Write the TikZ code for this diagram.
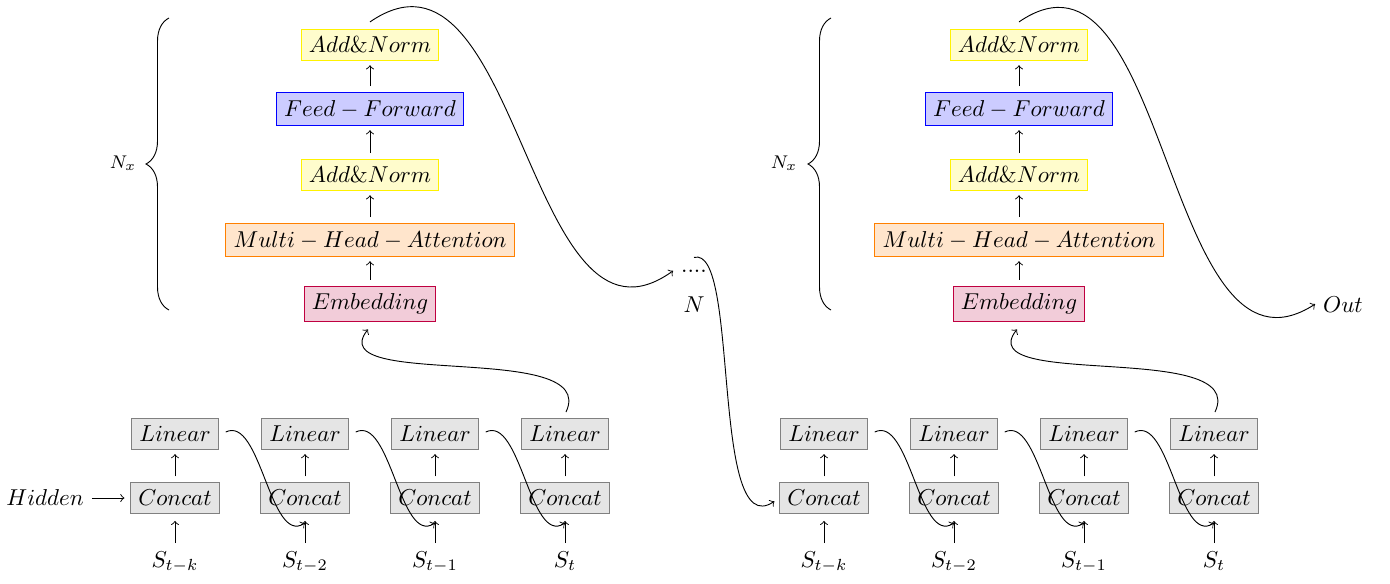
\documentclass[tikz,border=0pt]{standalone}
\usepackage{amsmath}
\usetikzlibrary{calc,decorations.pathreplacing}

\begin{document}
\begin{tikzpicture}[x=0.435pt,y=0.435pt,yscale=-1,xscale=1,
	addnorm/.style={draw=yellow,fill=yellow!20},
	feedfwd/.style={draw=blue,fill=blue!20},
	attn/.style={draw=orange,fill=orange!20},
	embed/.style={draw=purple,fill=purple!20},
	graybox/.style={draw=gray,fill=gray!20},
	uparr/.style={->,shorten >=1.8pt,shorten <=2.5pt},
	inarr/.style={->,shorten >=3pt},
	bracedeco/.style={decorate,decoration={brace,amplitude=10pt}}]
	\useasboundingbox (0,0) rectangle (1390,584);
	\draw (370,45) node [addnorm] (anl2) {$Add\&Norm$};
	\draw (370,109) node [feedfwd] (ffl) {$Feed-Forward$};
	\draw (370,175) node [addnorm] (anl1) {$Add\&Norm$};
	\draw (370,240) node [attn] (mhal) {$Multi-Head-Attention$};
	\draw (370,304) node [embed] (embl) {$Embedding$};
	\draw [uparr] (embl) -- (mhal);
	\draw [uparr] (mhal) -- (anl1);
	\draw [uparr] (anl1) -- (ffl);
	\draw [uparr] (ffl) -- (anl2);
	\draw [bracedeco] (169,310) -- (169,18);
	\draw (123,163) node [font=\footnotesize] (nxl) {$N_x$};
	\draw (45,498) node (hid) {$Hidden$};
	\draw (175,434) node [graybox] (linl1) {$Linear$};
	\draw (305,434) node [graybox] (linl2) {$Linear$};
	\draw (435,434) node [graybox] (linl3) {$Linear$};
	\draw (565,434) node [graybox] (linl4) {$Linear$};
	\draw (175,498) node [graybox] (catl1) {$Concat$};
	\draw (305,498) node [graybox] (catl2) {$Concat$};
	\draw (435,498) node [graybox] (catl3) {$Concat$};
	\draw (565,498) node [graybox] (catl4) {$Concat$};
	\draw (175,567) node [anchor=base] (sl1) {$S_{t-k}$};
	\draw (305,567) node [anchor=base] (sl2) {$S_{t-2}$};
	\draw (435,567) node [anchor=base] (sl3) {$S_{t-1}$};
	\draw (565,567) node [anchor=base] (sl4) {$S_t$};
	\draw [->,shorten >=2.5pt] (hid) -- (catl1);
	\draw [uparr] (catl1) -- (linl1);
	\draw [uparr] (catl2) -- (linl2);
	\draw [uparr] (catl3) -- (linl3);
	\draw [uparr] (catl4) -- (linl4);
	\draw [inarr] (sl1) -- (catl1);
	\draw [inarr] (sl2) -- (catl2);
	\draw [inarr] (sl3) -- (catl3);
	\draw [inarr] (sl4) -- (catl4);
	\draw [->] ($(linl1.east)+(7,-2)$) .. controls +(35,-17) and +(-35,23) .. ($(catl2.south)+(0,9)$);
	\draw [->] ($(linl2.east)+(7,-2)$) .. controls +(35,-17) and +(-35,23) .. ($(catl3.south)+(0,9)$);
	\draw [->] ($(linl3.east)+(7,-2)$) .. controls +(35,-17) and +(-35,23) .. ($(catl4.south)+(0,9)$);
	\draw [->] ($(linl4.north)+(1,-6)$) .. controls +(34,-72) and +(-48,61) .. ($(embl.south)+(-2,7)$);
	\draw (694,272) node [anchor=base] (dots) {$....$};
	\draw (694,312) node [anchor=base] (nn) {$N$};
	\draw [->] ($(anl2.north)+(0,-7)$) .. controls +(150,-103) and +(-146,105) .. (dots.west);
	\draw (1019,45) node [addnorm] (anr2) {$Add\&Norm$};
	\draw (1019,109) node [feedfwd] (ffr) {$Feed-Forward$};
	\draw (1019,175) node [addnorm] (anr1) {$Add\&Norm$};
	\draw (1019,240) node [attn] (mhar) {$Multi-Head-Attention$};
	\draw (1019,304) node [embed] (embr) {$Embedding$};
	\draw [uparr] (embr) -- (mhar);
	\draw [uparr] (mhar) -- (anr1);
	\draw [uparr] (anr1) -- (ffr);
	\draw [uparr] (ffr) -- (anr2);
	\draw [bracedeco] (831,310) -- (831,18);
	\draw (784,163) node [font=\footnotesize] (nxr) {$N_x$};
	\draw (824,434) node [graybox] (linr1) {$Linear$};
	\draw (954,434) node [graybox] (linr2) {$Linear$};
	\draw (1084,434) node [graybox] (linr3) {$Linear$};
	\draw (1214,434) node [graybox] (linr4) {$Linear$};
	\draw (824,498) node [graybox] (catr1) {$Concat$};
	\draw (954,498) node [graybox] (catr2) {$Concat$};
	\draw (1084,498) node [graybox] (catr3) {$Concat$};
	\draw (1214,498) node [graybox] (catr4) {$Concat$};
	\draw (824,567) node [anchor=base] (sr1) {$S_{t-k}$};
	\draw (954,567) node [anchor=base] (sr2) {$S_{t-2}$};
	\draw (1084,567) node [anchor=base] (sr3) {$S_{t-1}$};
	\draw (1214,567) node [anchor=base] (sr4) {$S_t$};
	\draw [uparr] (catr1) -- (linr1);
	\draw [uparr] (catr2) -- (linr2);
	\draw [uparr] (catr3) -- (linr3);
	\draw [uparr] (catr4) -- (linr4);
	\draw [inarr] (sr1) -- (catr1);
	\draw [inarr] (sr2) -- (catr2);
	\draw [inarr] (sr3) -- (catr3);
	\draw [inarr] (sr4) -- (catr4);
	\draw [->] ($(linr1.east)+(7,-2)$) .. controls +(35,-17) and +(-35,23) .. ($(catr2.south)+(0,9)$);
	\draw [->] ($(linr2.east)+(7,-2)$) .. controls +(35,-17) and +(-35,23) .. ($(catr3.south)+(0,9)$);
	\draw [->] ($(linr3.east)+(7,-2)$) .. controls +(35,-17) and +(-35,23) .. ($(catr4.south)+(0,9)$);
	\draw [->] ($(linr4.north)+(1,-6)$) .. controls +(34,-72) and +(-48,61) .. ($(embr.south)+(-2,7)$);
	\draw [->,shorten >=2.5pt] ($(dots.north)+(0,-4)$) .. controls +(46,-13) and +(-69,47) .. (catr1.west);
	\draw (1343,312) node [anchor=base] (out) {$Out$};
	\draw [->] ($(anr2.north)+(0,-7)$) .. controls +(150,-103) and +(-151,97) .. (out.west);
\end{tikzpicture}
\end{document}
